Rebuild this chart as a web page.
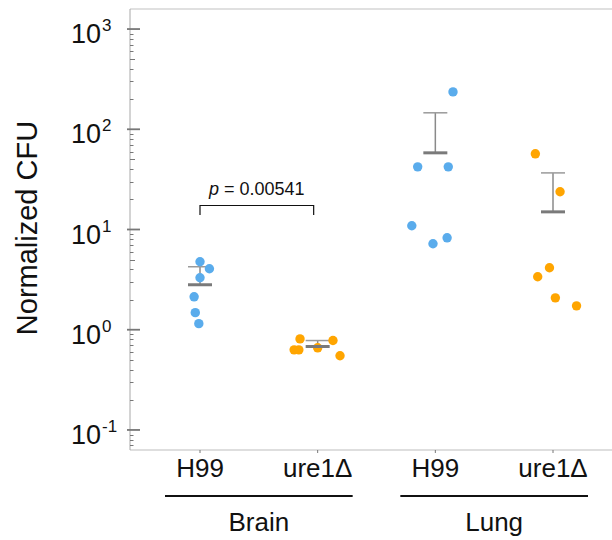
<!DOCTYPE html>
<html>
<head>
<meta charset="utf-8">
<script src="https://cdn.jsdelivr.net/npm/d3@7"></script>
<style>
  body { margin: 0; background: #fff; }
  text { font-family: 'Liberation Sans', Arial, sans-serif; }
</style>
</head>
<body>
<div id="chart"></div>
<script>
// groups, left to right
const groups = ['brain-h99', 'brain-ure1', 'lung-h99', 'lung-ure1']
const strainLabels = ['H99', 'ure1\u0394', 'H99', 'ure1\u0394']
const tissues = ['Brain', 'Lung']
const groupColors = ['#5aacec', '#ffa500', '#5aacec', '#ffa500']

// normalized CFU per animal
const brainH99 = [4.77, 4.06, 3.3, 2.13, 1.48, 1.15]
const brainUre1 = [0.81, 0.78, 0.63, 0.63, 0.66, 0.55]
const lungH99 = [236, 42.2, 42.2, 10.9, 7.2, 8.26]
const lungUre1 = [56.9, 23.8, 4.15, 3.38, 2.08, 1.73]
// horizontal jitter (fraction of group spacing)
const brainH99Jitter = [0.0, 0.08, 0.0, -0.05, -0.04, -0.01]
const brainUre1Jitter = [-0.15, 0.13, -0.2, -0.16, 0.0, 0.19]
const lungH99Jitter = [0.15, -0.15, 0.11, -0.2, -0.02, 0.1]
const lungUre1Jitter = [-0.15, 0.06, -0.03, -0.13, 0.02, 0.2]

// mean and upper error (SEM)
const means = [2.81, 0.68, 58.2, 15.0]
const upper = [4.25, 0.78, 146, 36.7]

const pValue = 'p = 0.00541'
const yTicks = [-1, 0, 1, 2, 3]

const W = 612
const H = 540
const plot = { left: 130, right: 612, top: 9, bottom: 450 }

const svg = d3
  .select('#chart')
  .append('svg')
  .attr('width', W)
  .attr('height', H)

const y = d3
  .scaleLog()
  .domain([Math.pow(10, -1.2), Math.pow(10, 3.2)])
  .range([plot.bottom, plot.top])

const x = d3
  .scalePoint()
  .domain(groups)
  .range([200, 553])

const step = x.step()

// frame
svg.append('line')
  .attr('x1', plot.left).attr('x2', plot.right)
  .attr('y1', plot.top).attr('y2', plot.top)
  .attr('stroke', '#d6d6d6').attr('stroke-width', 1.5)
svg.append('line')
  .attr('x1', plot.left).attr('x2', plot.right)
  .attr('y1', plot.bottom).attr('y2', plot.bottom)
  .attr('stroke', '#bdbdbd').attr('stroke-width', 1)
svg.append('line')
  .attr('x1', plot.left).attr('x2', plot.left)
  .attr('y1', plot.top).attr('y2', plot.bottom)
  .attr('stroke', '#a8a8a8').attr('stroke-width', 1)

// y ticks: major and minor
const minor = []
for (let e = -2; e <= 3; e++) {
  for (let m = 2; m <= 9; m++) {
    const v = m * Math.pow(10, e)
    if (v >= y.domain()[0] && v <= y.domain()[1]) minor.push(v)
  }
}
svg.selectAll('.minor')
  .data(minor)
  .enter()
  .append('line')
  .attr('x1', plot.left)
  .attr('x2', d => plot.left + (String(d).startsWith('5') ? 5 : 3.5))
  .attr('y1', d => Math.round(y(d)) + 0.5)
  .attr('y2', d => Math.round(y(d)) + 0.5)
  .attr('stroke', '#777')
  .attr('stroke-width', 1)

svg.selectAll('.major')
  .data(yTicks)
  .enter()
  .append('line')
  .attr('x1', plot.left - 3)
  .attr('x2', plot.left + 10)
  .attr('y1', d => y(Math.pow(10, d)))
  .attr('y2', d => y(Math.pow(10, d)))
  .attr('stroke', '#777')
  .attr('stroke-width', 1.8)

svg.selectAll('.ylab')
  .data(yTicks)
  .enter()
  .append('text')
  .attr('x', 101)
  .attr('y', d => y(Math.pow(10, d)) + 14)
  .attr('text-anchor', 'end')
  .attr('font-size', 27)
  .attr('fill', '#111')
  .text('10')
svg.selectAll('.ysup')
  .data(yTicks)
  .enter()
  .append('text')
  .attr('x', 102)
  .attr('y', d => y(Math.pow(10, d)) + 2)
  .attr('font-size', 17)
  .attr('fill', '#111')
  .text(d => d < 0 ? '-' + Math.abs(d) : d)

svg.append('text')
  .attr('transform', 'translate(37,' + 228 + ') rotate(-90)')
  .attr('text-anchor', 'middle')
  .attr('font-size', 29)
  .attr('fill', '#111')
  .text('Normalized CFU')

// x ticks and labels
svg.selectAll('.xtick')
  .data(groups)
  .enter()
  .append('line')
  .attr('x1', d => x(d)).attr('x2', d => x(d))
  .attr('y1', plot.bottom).attr('y2', plot.bottom + 3)
  .attr('stroke', '#777')

svg.selectAll('.xlab')
  .data(groups)
  .enter()
  .append('text')
  .attr('x', d => x(d))
  .attr('y', 477)
  .attr('text-anchor', 'middle')
  .attr('font-size', 26)
  .attr('fill', '#111')
  .text((d, i) => strainLabels[i])

tissues.forEach((t, i) => {
  const a = x(groups[i * 2])
  const b = x(groups[i * 2 + 1])
  svg.append('line')
    .attr('x1', a - 35).attr('x2', b + 35)
    .attr('y1', 496).attr('y2', 496)
    .attr('stroke', '#111').attr('stroke-width', 2)
  svg.append('text')
    .attr('x', (a + b) / 2)
    .attr('y', 531)
    .attr('text-anchor', 'middle')
    .attr('font-size', 26)
    .attr('fill', '#111')
    .text(t)
})

// error bars and means
const half = 12
groups.forEach((g, i) => {
  const cx = x(g)
  svg.append('line')
    .attr('x1', cx).attr('x2', cx)
    .attr('y1', y(means[i])).attr('y2', y(upper[i]))
    .attr('stroke', '#8a8a8a').attr('stroke-width', 1.5)
  svg.append('line')
    .attr('x1', cx - half).attr('x2', cx + half)
    .attr('y1', y(upper[i])).attr('y2', y(upper[i]))
    .attr('stroke', '#9a9a9a').attr('stroke-width', 1.5)
})

// points
const series = [
  [brainH99, brainH99Jitter],
  [brainUre1, brainUre1Jitter],
  [lungH99, lungH99Jitter],
  [lungUre1, lungUre1Jitter]
]
series.forEach(([vals, jit], i) => {
  svg.selectAll('.pt-' + i)
    .data(vals)
    .enter()
    .append('circle')
    .attr('cx', (d, j) => x(groups[i]) + jit[j] * step)
    .attr('cy', d => y(d))
    .attr('r', 4.7)
    .attr('fill', groupColors[i])
})

groups.forEach((g, i) => {
  const cx = x(g)
  svg.append('line')
    .attr('x1', cx - half).attr('x2', cx + half)
    .attr('y1', y(means[i])).attr('y2', y(means[i]))
    .attr('stroke', '#7a7a7a').attr('stroke-width', 3)
})

// significance bracket
const bx1 = x(groups[0])
const bx2 = x(groups[1]) - 4
svg.append('path')
  .attr('d', `M${bx1},215V205.5H${bx2}V215`)
  .attr('fill', 'none')
  .attr('stroke', '#111')
  .attr('stroke-width', 1.2)
const pt = svg.append('text')
  .attr('x', (bx1 + bx2) / 2)
  .attr('y', 195)
  .attr('text-anchor', 'middle')
  .attr('font-size', 18)
  .attr('fill', '#111')
pt.append('tspan').attr('font-style', 'italic').text('p')
pt.append('tspan').text(pValue.slice(1))
</script>
</body>
</html>
